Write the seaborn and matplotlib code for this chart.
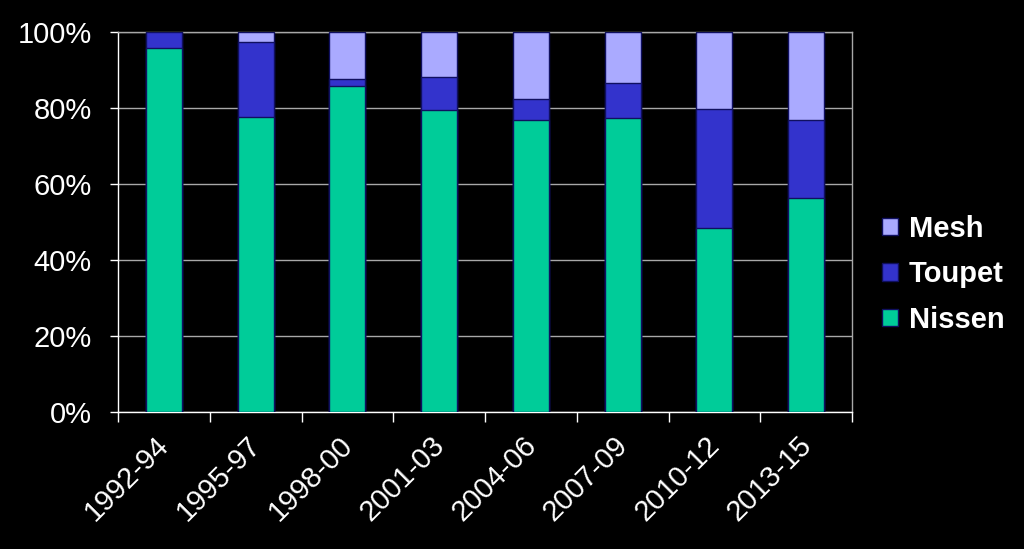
import numpy as np
import pandas as pd
import matplotlib
matplotlib.use("Agg")
import matplotlib.pyplot as plt
import matplotlib.transforms as mtransforms
import seaborn as sns
from matplotlib.ticker import FixedLocator, PercentFormatter
from matplotlib.patches import Patch

periods = ["1992-94", "1995-97", "1998-00", "2001-03", "2004-06", "2007-09", "2010-12", "2013-15"]
nissen = [95.8, 77.6, 85.8, 79.5, 76.8, 77.4, 48.4, 56.3]
toupet = [4.2, 19.7, 1.9, 8.6, 5.6, 9.2, 31.3, 20.5]
mesh = [0.0, 2.7, 12.3, 11.9, 17.6, 13.4, 20.3, 23.2]

c_nissen = "#00CC99"
c_toupet = "#3333CC"
c_mesh = "#AAAAFF"

sns.set_theme(style="dark")
plt.rcParams["font.family"] = ["Liberation Sans", "DejaVu Sans"]

df = pd.DataFrame({"period": periods, "Nissen": nissen, "Toupet": toupet, "Mesh": mesh})
df["t2"] = df["Nissen"] + df["Toupet"]
df["t3"] = df["t2"] + df["Mesh"]

fig = plt.figure(figsize=(10.24, 5.49), dpi=100, facecolor="black")
ax = fig.add_axes([118/1024, 1-412/549, (852-118)/1024, (412-32)/549])
ax.set_facecolor("black")

edge = "#101060"
sns.barplot(data=df, x="period", y="t3", color=c_mesh, saturation=1, width=0.39,
            edgecolor=edge, linewidth=1, ax=ax, zorder=3)
sns.barplot(data=df, x="period", y="t2", color=c_toupet, saturation=1, width=0.39,
            edgecolor=edge, linewidth=1, ax=ax, zorder=3)
sns.barplot(data=df, x="period", y="Nissen", color=c_nissen, saturation=1, width=0.39,
            edgecolor=edge, linewidth=1, ax=ax, zorder=3)

ax.set_xlim(-0.5, len(periods) - 0.5)
ax.set_ylim(0, 100)
ax.set_xlabel("")
ax.set_ylabel("")
ax.set_yticks([0, 20, 40, 60, 80, 100])
ax.yaxis.set_major_formatter(PercentFormatter(decimals=0))
ax.grid(axis="y", color="#a8a8a8", linewidth=1, zorder=0)
ax.grid(axis="x", visible=False)

ax.set_xticks(range(len(periods)))
ax.set_xticklabels(periods, rotation=45, ha="right", rotation_mode="anchor")
ax.xaxis.set_minor_locator(FixedLocator(np.arange(-0.5, len(periods), 1.0)))
ax.tick_params(axis="x", which="major", length=0, pad=14, labelsize=21, labelcolor="white")
ax.tick_params(axis="x", which="minor", length=7, width=1, color="white", direction="out", bottom=True)
ax.tick_params(axis="y", which="major", length=6, width=1, color="white", direction="out",
               left=True, labelsize=21, labelcolor="white", pad=13)

offset = mtransforms.ScaledTranslation(-9/100, 0/100, fig.dpi_scale_trans)
for lbl in ax.get_xticklabels():
    lbl.set_transform(lbl.get_transform() + offset)

for side in ["left", "bottom"]:
    ax.spines[side].set_visible(True)
    ax.spines[side].set_color("white")
    ax.spines[side].set_linewidth(1)
for side in ["right", "top"]:
    ax.spines[side].set_visible(True)
    ax.spines[side].set_color("#a8a8a8")
    ax.spines[side].set_linewidth(1)

handles = [Patch(facecolor=c_mesh, edgecolor=edge, label="Mesh"),
           Patch(facecolor=c_toupet, edgecolor=edge, label="Toupet"),
           Patch(facecolor=c_nissen, edgecolor=edge, label="Nissen")]
leg = fig.legend(handles=handles, loc="center left", bbox_to_anchor=(0.836, 0.5),
                 frameon=False, handlelength=0.55, handleheight=0.55, handletextpad=0.35,
                 labelspacing=0.6, prop={"size": 21, "weight": "bold"})
for t in leg.get_texts():
    t.set_color("white")

fig.savefig("out.png", dpi=100, facecolor="black")
